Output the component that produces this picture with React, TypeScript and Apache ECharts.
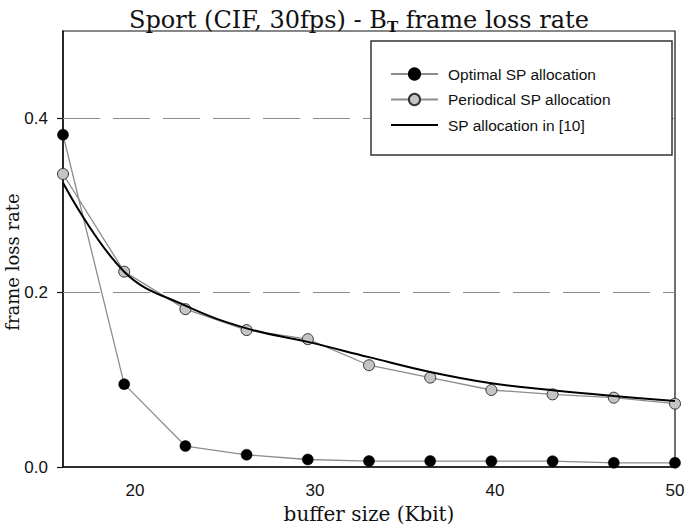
import React, { useEffect, useRef } from "react";
import * as echarts from "echarts";

const bufferSizes = [16, 19.4, 22.8, 26.2, 29.6, 33, 36.4, 39.8, 43.2, 46.6, 50];
const optimalSP = [0.381, 0.095, 0.024, 0.014, 0.0086, 0.0068, 0.0068, 0.0067, 0.0067, 0.0048, 0.0048];
const periodicalSP = [0.336, 0.224, 0.181, 0.157, 0.1466, 0.1167, 0.1025, 0.0883, 0.0833, 0.0795, 0.0726];
const ref10SP = [0.326, 0.224, 0.185, 0.159, 0.1435, 0.126, 0.109, 0.096, 0.088, 0.0814, 0.0756];
const xTicks = [20, 30, 40, 50];
const yTicks = [0, 0.2, 0.4];
const gridValues = [0.2, 0.4];
const seriesNames = ["Optimal SP allocation", "Periodical SP allocation", "SP allocation in [10]"];

const zip = (xs: number[], ys: number[]) => xs.map((x, i) => [x, ys[i]]);

export default function App() {
  const ref = useRef<HTMLDivElement>(null);
  useEffect(() => {
    document.body.style.margin = "0";
    if (!ref.current) return;
    const chart = echarts.init(ref.current, null, { renderer: "svg" });
    const serif = "DejaVu Serif";
    const sans = "Liberation Sans";
    chart.setOption({
      animation: false,
      backgroundColor: "#fff",
      title: {
        text: "{a|Sport (CIF, 30fps) - B}{s|T}{a| frame loss rate}",
        left: 354,
        textAlign: "center",
        top: 0,
        textStyle: {
          rich: {
            a: { fontFamily: serif, fontSize: 24, color: "#111", fontWeight: "normal" },
            s: { fontFamily: serif, fontSize: 15, color: "#111", padding: [14, 0, 0, 0], verticalAlign: "bottom" },
          },
        },
      },
      grid: {
        left: 63,
        right: 10,
        top: 31,
        bottom: 61,
        outerBoundsMode: "none",
        containLabel: false,
        show: true,
        borderColor: "#111",
        borderWidth: 1.2,
        backgroundColor: "transparent",
      },
      legend: {
        orient: "vertical",
        left: 390,
        top: 66,
        padding: 0,
        itemWidth: 47,
        itemHeight: 14,
        itemGap: 9.5,
        z: 10,
        data: [
          seriesNames[0],
          seriesNames[1],
          { name: seriesNames[2], icon: "path://M0,0 L47,0 L47,2 L0,2 Z" },
        ],
        textStyle: { fontFamily: sans, fontSize: 15.5, color: "#111", padding: [0, 0, 0, 5] },
      },
      graphic: [
        {
          type: "rect",
          z: 5,
          shape: { x: 371, y: 41, width: 301, height: 114 },
          style: { fill: "#fff", stroke: "#333", lineWidth: 1.5 },
        },
      ],
      xAxis: {
        type: "value",
        min: 16,
        max: 50,
        name: "buffer size (Kbit)",
        nameLocation: "middle",
        nameGap: 37,
        nameTextStyle: { fontFamily: serif, fontSize: 20, color: "#111" },
        axisLine: { lineStyle: { color: "#111", width: 1.5 } },
        axisTick: { show: false },
        splitLine: { show: false },
        axisLabel: {
          customValues: xTicks,
          margin: 15,
          fontFamily: sans,
          fontSize: 17,
          color: "#111",
        },
      },
      yAxis: {
        type: "value",
        min: 0,
        max: 0.5,
        name: "frame loss rate",
        nameLocation: "middle",
        nameGap: 42,
        nameMoveOverlap: false,
        nameTextStyle: { fontFamily: serif, fontSize: 18, color: "#111", padding: [0, 26, 0, 0] },
        axisLine: { show: true, lineStyle: { color: "#111", width: 1.5 } },
        axisTick: { show: true, customValues: yTicks, length: 6, lineStyle: { color: "#111", width: 1.2 } },
        splitLine: { show: false },
        axisLabel: {
          customValues: yTicks,
          margin: 15,
          fontFamily: sans,
          fontSize: 17,
          color: "#111",
          formatter: (v: number) => v.toFixed(1),
        },
      },
      series: [
        {
          name: seriesNames[0],
          type: "line",
          data: zip(bufferSizes, optimalSP),
          symbol: "circle",
          symbolSize: 11,
          lineStyle: { color: "#8c8c8c", width: 1.3 },
          itemStyle: { color: "#000", borderColor: "#000", borderWidth: 0.5 },
          z: 3,
          markLine: {
            silent: true,
            symbol: "none",
            label: { show: false },
            lineStyle: { color: "#8c8c8c", type: [37, 13], width: 1.2 },
            data: gridValues.map((v) => ({ yAxis: v })),
            z: 1,
          },
        },
        {
          name: seriesNames[1],
          type: "line",
          data: zip(bufferSizes, periodicalSP),
          symbol: "circle",
          symbolSize: 11,
          lineStyle: { color: "#8c8c8c", width: 1.3 },
          itemStyle: { color: "#c4c4c4", borderColor: "#333", borderWidth: 1 },
          z: 3,
        },
        {
          name: seriesNames[2],
          type: "line",
          data: zip(bufferSizes, ref10SP),
          smooth: 0.4,
          symbol: "none",
          lineStyle: { color: "#000", width: 2 },
          itemStyle: { color: "#000" },
          z: 4,
        },
      ],
    });
    return () => chart.dispose();
  }, []);
  return <div ref={ref} style={{ width: 685, height: 528 }} />;
}
